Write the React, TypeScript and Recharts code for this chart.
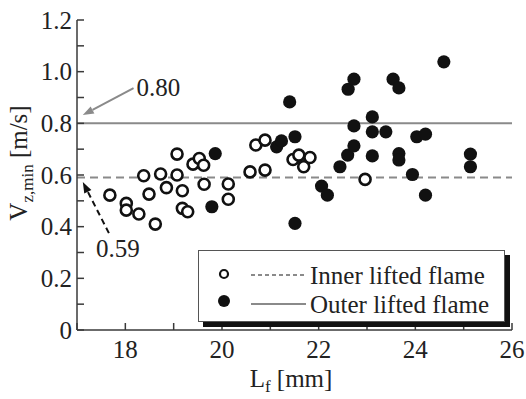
import { ScatterChart, Scatter, XAxis, YAxis, ReferenceLine } from "recharts";

// inner lifted flame (open circles)
const innerLf = [17.68, 18.02, 18.02, 18.28, 18.38, 18.49, 18.62, 18.73, 18.85, 19.07, 19.07, 19.18, 19.18, 19.29, 19.4, 19.53, 19.62, 19.63, 20.13, 20.13, 20.58, 20.7, 20.89, 20.89, 21.47, 21.59, 21.69, 21.82, 22.96];
const innerVz = [0.522, 0.49, 0.464, 0.449, 0.597, 0.526, 0.41, 0.604, 0.551, 0.6, 0.681, 0.539, 0.471, 0.458, 0.642, 0.664, 0.638, 0.564, 0.565, 0.506, 0.612, 0.716, 0.735, 0.619, 0.66, 0.677, 0.632, 0.668, 0.583];

// outer lifted flame (filled circles)
const outerLf = [19.79, 19.86, 21.13, 21.23, 21.51, 21.4, 21.51, 22.06, 22.18, 22.44, 22.6, 22.61, 22.73, 22.73, 22.73, 23.11, 23.11, 23.11, 23.39, 23.54, 23.66, 23.66, 23.66, 23.94, 24.03, 24.21, 24.21, 24.59, 25.14, 25.14];
const outerVz = [0.477, 0.683, 0.709, 0.732, 0.748, 0.883, 0.413, 0.557, 0.522, 0.632, 0.677, 0.932, 0.971, 0.79, 0.713, 0.825, 0.767, 0.674, 0.767, 0.971, 0.937, 0.683, 0.658, 0.602, 0.748, 0.758, 0.522, 1.038, 0.681, 0.632];

const xTicks = [17, 18, 19, 20, 21, 22, 23, 24, 25, 26];
const xLabels = [18, 20, 22, 24, 26];
const yTicks = [0, 0.1, 0.2, 0.3, 0.4, 0.5, 0.6, 0.7, 0.8, 0.9, 1.0, 1.1, 1.2];
const yLabels = ["0", "0.2", "0.4", "0.6", "0.8", "1.0", "1.2"];

const outerLevel = 0.8;
const innerLevel = 0.59;
// annotation arrows: [start x, start y, end x, end y]
const arrow80 = [18.17, 0.936, 17.12, 0.832];
const arrow59 = [17.66, 0.375, 17.12, 0.573];

const inner = innerLf.map((lf, i) => ({ lf, vz: innerVz[i] }));
const outer = outerLf.map((lf, i) => ({ lf, vz: outerVz[i] }));

const font = "'Liberation Serif', 'Times New Roman', serif";
const axisColor = "#3a3a3a";
const refColor = "#8a8a8a";
const tickLen = 7;

const BottomTick = (p: any) => {
    const v = p.payload.value;
    return (
        <g>
            <line x1={p.x} x2={p.x} y1={p.y} y2={p.y - tickLen} stroke={axisColor} strokeWidth={1.5} />
            {xLabels.includes(v) && (
                <text x={p.x} y={p.y + 28} textAnchor="middle" fontSize={25} fontFamily={font} fill="#222">
                    {v}
                </text>
            )}
        </g>
    );
};

const TopTick = (p: any) => (
    <line x1={p.x} x2={p.x} y1={p.y} y2={p.y + tickLen} stroke={axisColor} strokeWidth={1.5} />
);

const LeftTick = (p: any) => {
    const v = p.payload.value;
    const idx = Math.round(v * 10);
    return (
        <g>
            <line x1={p.x} x2={p.x + tickLen} y1={p.y} y2={p.y} stroke={axisColor} strokeWidth={1.5} />
            {idx % 2 === 0 && (
                <text x={p.x - 5} y={p.y} dy="0.34em" textAnchor="end" fontSize={25} fontFamily={font} fill="#222">
                    {yLabels[idx / 2]}
                </text>
            )}
        </g>
    );
};

const RightTick = (p: any) => (
    <line x1={p.x} x2={p.x - tickLen} y1={p.y} y2={p.y} stroke={axisColor} strokeWidth={1.5} />
);

const OpenDot = (p: any) => (
    <circle cx={p.cx} cy={p.cy} r={5.5} fill="#fff" stroke="#111" strokeWidth={2.6} />
);
const FilledDot = (p: any) => <circle cx={p.cx} cy={p.cy} r={6.6} fill="#111" />;

const arrowShape = (label: string, color: string, dash: string | undefined, dx: number, dy: number, anchor: string) => (p: any) => {
    const { x1, y1, x2, y2 } = p;
    const a = Math.atan2(y2 - y1, x2 - x1);
    const L = 11, W = 4;
    const bx = x2 - L * Math.cos(a), by = y2 - L * Math.sin(a);
    const pts = `${x2},${y2} ${bx - W * Math.sin(a)},${by + W * Math.cos(a)} ${bx + W * Math.sin(a)},${by - W * Math.cos(a)}`;
    return (
        <g>
            <line x1={x1} y1={y1} x2={bx} y2={by} stroke={color} strokeWidth={2} strokeDasharray={dash} />
            <polygon points={pts} fill={color} />
            <text x={x1 + dx} y={y1 + dy} dy="0.35em" textAnchor={anchor as any} fontSize={25} fontFamily={font} fill="#222">
                {label}
            </text>
        </g>
    );
};

const YLabel = () => (
    <text x={27} y={163} transform="rotate(-90, 27, 163)" textAnchor="middle" fontSize={25} fontFamily={font} fill="#222">
        V<tspan fontSize={17} dy={6}>z,min</tspan>
        <tspan dy={-6}> [m/s]</tspan>
    </text>
);

export default function App() {
    return (
        <div style={{ position: "absolute", left: 0, top: 0, width: 526, height: 399, background: "#fff" }}>
            <ScatterChart width={526} height={399} margin={{ top: 20, right: 14, bottom: 19, left: 17 }}>
                <XAxis dataKey="lf" type="number" domain={[17, 26]} ticks={xTicks} interval={0}
                    height={50} tickSize={0} tickMargin={0} tickLine={false}
                    axisLine={{ stroke: axisColor, strokeWidth: 1.5 }} tick={BottomTick} />
                <XAxis xAxisId="top" orientation="top" dataKey="lf" type="number" domain={[17, 26]} ticks={xTicks}
                    interval={0} height={0} tickSize={0} tickMargin={0} tickLine={false}
                    axisLine={{ stroke: axisColor, strokeWidth: 1.5 }} tick={TopTick} />
                <YAxis dataKey="vz" type="number" domain={[0, 1.2]} ticks={yTicks} interval={0}
                    width={60} tickSize={0} tickMargin={0} tickLine={false}
                    axisLine={{ stroke: axisColor, strokeWidth: 1.5 }} tick={LeftTick} />
                <YAxis yAxisId="right" orientation="right" dataKey="vz" type="number" domain={[0, 1.2]} ticks={yTicks}
                    interval={0} width={0} tickSize={0} tickMargin={0} tickLine={false}
                    axisLine={{ stroke: axisColor, strokeWidth: 1.5 }} tick={RightTick} />

                <ReferenceLine y={outerLevel} stroke={refColor} strokeWidth={2} />
                <ReferenceLine y={innerLevel} stroke={refColor} strokeWidth={2} strokeDasharray="8 5" />

                <Scatter data={inner} shape={OpenDot} isAnimationActive={false} />
                <Scatter data={outer} shape={FilledDot} isAnimationActive={false} />

                <ReferenceLine segment={[{ x: arrow80[0], y: arrow80[1] }, { x: arrow80[2], y: arrow80[3] }]}
                    shape={arrowShape("0.80", refColor, undefined, 3, -1, "start")} />
                <ReferenceLine segment={[{ x: arrow59[0], y: arrow59[1] }, { x: arrow59[2], y: arrow59[3] }]}
                    shape={arrowShape("0.59", "#111", "6 4", 9, 15, "middle")} />
            </ScatterChart>

            <svg width={526} height={399} style={{ position: "absolute", left: 0, top: 0, pointerEvents: "none" }}>
                <YLabel />
                <text x={291} y={387} textAnchor="middle" fontSize={25} fontFamily={font} fill="#222">
                    L<tspan fontSize={17} dy={5}>f</tspan>
                    <tspan dy={-5}> [mm]</tspan>
                </text>
            </svg>

            <div style={{
                position: "absolute", left: 198, top: 250, width: 305, height: 70,
                border: "1.5px solid #555", background: "#fff", boxShadow: "5px 5px 0 #111",
            }}>
                <svg width={305} height={70}>
                    <circle cx={25} cy={23} r={4} fill="#fff" stroke="#111" strokeWidth={2.2} />
                    <line x1={52} x2={107} y1={24} y2={24} stroke={refColor} strokeWidth={1.8} strokeDasharray="4 3" />
                    <text x={111} y={24} dy="0.34em" fontSize={25} fontFamily={font} fill="#222">Inner lifted flame</text>
                    <circle cx={25} cy={50} r={6} fill="#111" />
                    <line x1={52} x2={107} y1={53} y2={53} stroke={refColor} strokeWidth={1.8} />
                    <text x={111} y={53} dy="0.34em" fontSize={25} fontFamily={font} fill="#222">Outer lifted flame</text>
                </svg>
            </div>
        </div>
    );
}
